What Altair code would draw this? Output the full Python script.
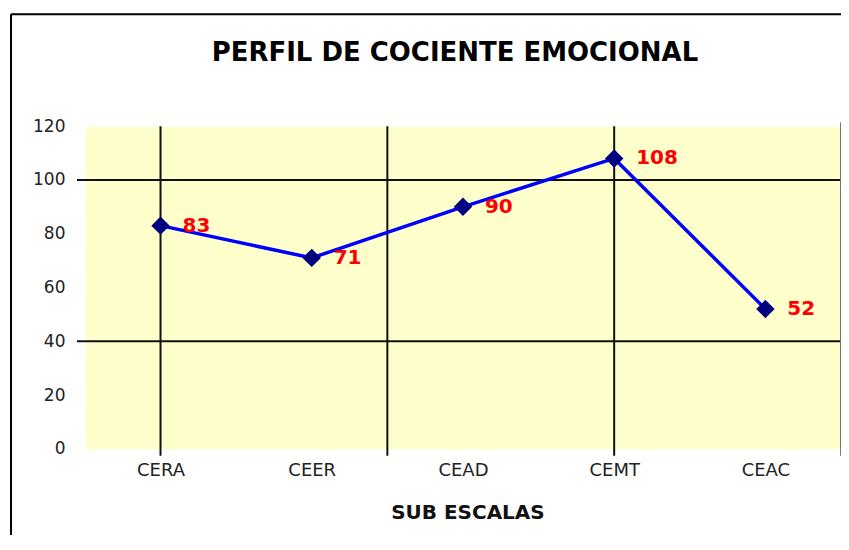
import json
import altair as alt
import pandas as pd

# ---- data ----
categories = ["CERA", "CEER", "CEAD", "CEMT", "CEAC"]
values = [83, 71, 90, 108, 52]
y_ticks = [0, 20, 40, 60, 80, 100, 120]
grid_y = [100, 40]          # horizontal gridlines visible in the reference
grid_x = [0, 1.5, 3]        # vertical gridlines visible (category-index units)
edge_x = [4.5]              # right edge of the plot area

W, H = 757, 323

df = pd.DataFrame({"idx": list(range(len(categories))), "cat": categories, "value": values})
gy = pd.DataFrame({"idx": [0] * len(grid_y), "value": grid_y})
gx = pd.DataFrame({"idx": grid_x, "value": [0] * len(grid_x)})
ex = pd.DataFrame({"idx": edge_x, "value": [0]})
one = pd.DataFrame({"idx": [0], "value": [0]})

xscale = alt.Scale(domain=[-0.5, len(categories) - 0.5], nice=False, zero=False)
yscale = alt.Scale(domain=[0, 120], nice=False)

label_expr = json.dumps(categories) + "[datum.value]"

X = alt.X("idx:Q", scale=xscale,
          axis=alt.Axis(values=list(range(len(categories))), labelExpr=label_expr,
                        title="SUB ESCALAS", grid=False, ticks=False, domain=False,
                        labelFont="DejaVu Sans", labelFontSize=18, labelColor="#222222",
                        labelPadding=13,
                        titleFont="DejaVu Sans", titleFontSize=20, titleFontWeight="bold",
                        titleColor="#111111", titleBaseline="middle", titleY=64, titleX=383))
Y = alt.Y("value:Q", scale=yscale,
          axis=alt.Axis(values=y_ticks, title=None, grid=False, ticks=False, domain=False,
                        labelFont="DejaVu Sans", labelFontSize=17, labelColor="#222222",
                        labelPadding=20))

base = alt.Chart(df)

line = base.mark_line(color="#0000FF", strokeWidth=3.5).encode(x=X, y=Y)

points = base.mark_point(shape="diamond", filled=True, size=340, color="#000080", opacity=1).encode(
    x=X, y=Y)

labels = base.mark_text(align="left", baseline="middle", dx=22, color="#FF0000",
                        font="DejaVu Sans", fontSize=20, fontWeight="bold").encode(
    x=X, y=Y, text="value:Q")

hgrid = alt.Chart(gy).mark_rule(color="#111111", strokeWidth=2).encode(
    y=Y, x=alt.value(-8), x2=alt.value(W))

vgrid = alt.Chart(gx).mark_rule(color="#111111", strokeWidth=2).encode(
    x=X, y=alt.value(0), y2=alt.value(H + 7))

edge = alt.Chart(ex).mark_rule(color="#777777", strokeWidth=2).encode(
    x=X, y=alt.value(-4), y2=alt.value(H + 7))

border_top = alt.Chart(one).mark_rule(color="#000000", strokeWidth=2).encode(
    x=alt.value(-74), x2=alt.value(W + 10), y=alt.value(-112))
border_left = alt.Chart(one).mark_rule(color="#000000", strokeWidth=2).encode(
    x=alt.value(-74), y=alt.value(-112), y2=alt.value(H + 100))

chart = alt.layer(hgrid, vgrid, edge, line, points, labels, border_top, border_left).properties(
    width=W, height=H,
    title=alt.TitleParams("PERFIL DE COCIENTE EMOCIONAL", font="DejaVu Sans", fontSize=26,
                          fontWeight="bold", color="#000000", anchor="middle", dx=-8,
                          baseline="alphabetic", offset=-74),
    autosize=alt.AutoSizeParams(type="none"),
    padding={"left": 77, "top": 118, "right": 0, "bottom": 86},
).configure(background="#FFFFFF").configure_view(fill="#FFFFCC", stroke="transparent")

chart.save("out.html", embed_options={"renderer": "svg", "actions": False})
